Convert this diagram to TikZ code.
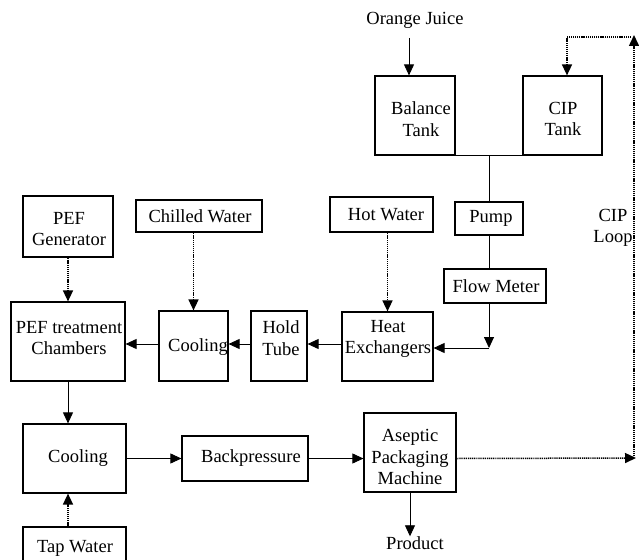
\documentclass[tikz,border=0pt]{standalone}
\usepackage{fontspec}
\setmainfont{Liberation Serif}
\usetikzlibrary{arrows.meta}
\begin{document}
\begin{tikzpicture}[x=1pt,y=-1pt,
  font=\fontsize{18.5}{21.5}\selectfont,
  box/.style={draw, line width=1.2pt, inner sep=0pt},
  txt/.style={inner sep=0pt, align=center},
  conn/.style={line width=0.9pt},
  arr/.style={conn, -{Triangle[length=11pt,width=10pt]}},
  dotln/.style={line width=1.5pt, dash pattern=on 1.1pt off 0.8pt},
  dotarr/.style={dotln, -{Triangle[length=11pt,width=10pt]}}]
\clip (0,0) rectangle (639,559);
\fill[white] (0,0) rectangle (639,559);
% boxes
\node[box, minimum width=80pt, minimum height=79pt] (bal) at (415,115.5) {};
\node[box, minimum width=79pt, minimum height=79pt] (cip) at (562.5,115.5) {};
\node[box, minimum width=68pt, minimum height=33pt] (pump) at (489,218.5) {};
\node[box, minimum width=102pt, minimum height=34pt] (fm) at (495,286) {};
\node[box, minimum width=103pt, minimum height=35pt] (hot) at (381.5,214.5) {};
\node[box, minimum width=91pt, minimum height=69pt] (hx) at (387.5,346.5) {};
\node[box, minimum width=56pt, minimum height=70pt] (hold) at (279,346) {};
\node[box, minimum width=69pt, minimum height=70pt] (cool2) at (193.5,346) {};
\node[box, minimum width=114pt, minimum height=79pt] (pef) at (68,341.5) {};
\node[box, minimum width=90pt, minimum height=61pt] (gen) at (68,226.5) {};
\node[box, minimum width=126pt, minimum height=32pt] (chill) at (199,216) {};
\node[box, minimum width=103pt, minimum height=69pt] (cool) at (74.5,458.5) {};
\node[box, minimum width=126pt, minimum height=45pt] (bp) at (245,458.5) {};
\node[box, minimum width=92pt, minimum height=79pt] (asep) at (410,452.5) {};
\node[box, minimum width=103pt, minimum height=48pt] (tap) at (74.5,551) {};
% texts
\node[txt] (toj) at (415,20) {Orange Juice};
\node[txt] (tbal) at (421,119) {Balance\\Tank};
\node[txt] (tcip) at (563,119) {CIP\\Tank};
\node[txt] (tpump) at (491,218) {Pump};
\node[txt] (tfm) at (496,286) {Flow Meter};
\node[txt] (thot) at (386,215) {Hot Water};
\node[txt] (thx) at (388,339) {Heat\\Exchangers};
\node[txt] (thold) at (281,338) {Hold\\Tube};
\node[txt] (tcool2) at (198,347) {Cooling};
\node[txt] (tpef) at (69,338) {PEF treatment\\Chambers};
\node[txt] (tgen) at (69,229) {PEF\\Generator};
\node[txt] (tchill) at (200,216) {Chilled Water};
\node[txt] (tcool) at (78,458) {Cooling};
\node[txt] (tbp) at (251,458) {Backpressure};
\node[txt] (tasep) at (410,457) {Aseptic\\Packaging\\Machine};
\node[txt] (ttap) at (75,548) {Tap Water};
\node[txt] (tprod) at (415,543) {Product};
\node[txt] (tloop) at (613,228) {CIP\\Loop};
% coordinates
\coordinate (ojs) at (409,38);
\coordinate (j1) at (489,155);
\coordinate (j2) at (489,348);
\coordinate (r) at (0,344);
\coordinate (lb) at (636,458);
\coordinate (lv) at (634,456);
\coordinate (lt) at (634,35);
\coordinate (ctr) at (631,37);
\coordinate (ctl) at (567,37);
% connectors
\draw[arr] (ojs) -- (ojs |- bal.north);
\draw[conn] (bal.south east) -- (cip.south west);
\draw[conn] (j1) -- (j1 |- pump.north);
\draw[conn] (pump.south) -- (pump.south |- fm.north);
\draw[arr] (pump.south |- fm.south) -- (j2);
\draw[arr] (j2) -- (j2 -| hx.east);
\draw[arr] (r -| hx.west) -- (r -| hold.east);
\draw[arr] (r -| hold.west) -- (r -| cool2.east);
\draw[arr] (r -| cool2.west) -- (r -| pef.east);
\draw[dotarr] (hot.south -| hx.north) -- (hx.north);
\draw[dotarr] (chill.south -| cool2.north) -- (cool2.north);
\draw[dotarr] (gen.south) -- (pef.north);
\draw[arr] (pef.south) -- (pef.south |- cool.north);
\draw[dotarr] (tap.north -| pef.south) -- (pef.south |- cool.south);
\draw[arr] (cool.east) -- (bp.west);
\draw[arr] (bp.east) -- (bp.east -| asep.west);
\draw[dotarr] (bp.east -| asep.east) -- (lb);
\draw[dotarr] (lv) -- (lt);
\draw[dotarr] (ctr) -- (ctl) -- (ctl |- cip.north);
\draw[arr] (asep.south -| 410,0) -- (tprod.north -| 410,0);
\end{tikzpicture}
\end{document}
